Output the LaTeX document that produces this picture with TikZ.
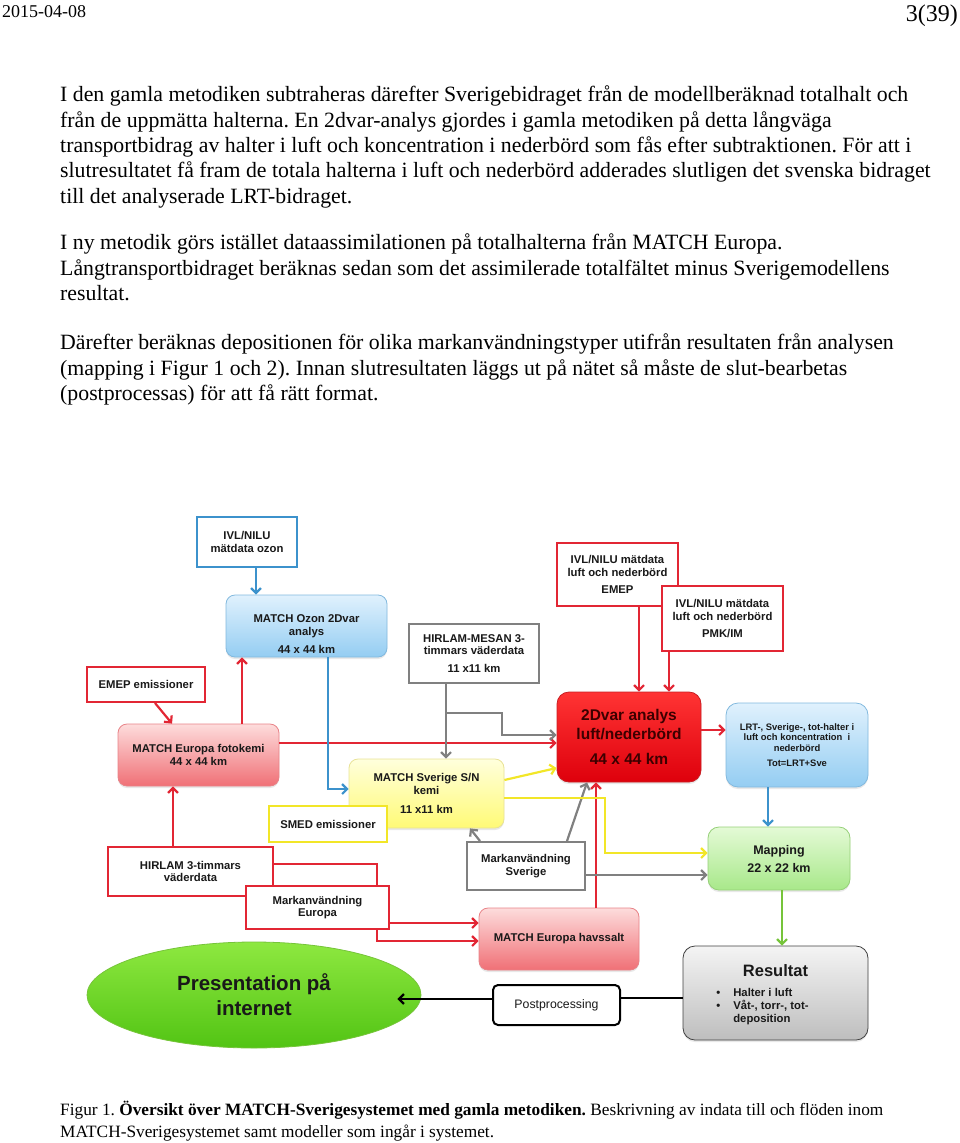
\documentclass[tikz,border=0pt]{standalone}
\usepackage{fontspec}
\setmainfont{Liberation Serif}
\setsansfont{Liberation Sans}
\usetikzlibrary{positioning,arrows.meta,backgrounds,shadows,shapes.geometric}

\definecolor{lineRed}{RGB}{226,38,52}
\definecolor{lineBlue}{RGB}{60,146,204}
\definecolor{lineGray}{RGB}{128,128,128}
\definecolor{lineYellow}{RGB}{242,230,40}
\definecolor{lineGreen}{RGB}{118,196,58}
\definecolor{blueTop}{RGB}{224,241,253}
\definecolor{blueBot}{RGB}{148,205,242}
\definecolor{blueEdge}{RGB}{130,185,222}
\definecolor{pinkTop}{RGB}{253,220,220}
\definecolor{pinkBot}{RGB}{240,112,118}
\definecolor{pinkEdge}{RGB}{232,130,135}
\definecolor{yelTop}{RGB}{255,255,220}
\definecolor{yelBot}{RGB}{255,250,118}
\definecolor{yelEdge}{RGB}{232,226,150}
\definecolor{redTop}{RGB}{255,52,52}
\definecolor{redBot}{RGB}{222,0,12}
\definecolor{redEdge}{RGB}{200,30,35}
\definecolor{greenTop}{RGB}{228,250,214}
\definecolor{greenBot}{RGB}{168,232,138}
\definecolor{greenEdge}{RGB}{150,208,120}
\definecolor{grayTop}{RGB}{244,244,244}
\definecolor{grayBot}{RGB}{190,190,190}
\definecolor{ellTop}{RGB}{142,232,64}
\definecolor{ellBot}{RGB}{82,196,20}
\definecolor{ink}{RGB}{25,25,25}
\definecolor{dvarInk}{RGB}{60,0,0}

\newcommand{\bodyfont}{\rmfamily\mdseries\fontsize{21.8}{25.3}\selectfont}
\newcommand{\capfont}{\rmfamily\mdseries\fontsize{17.3}{22}\selectfont}
\newcommand{\boxfont}{\sffamily\bfseries\fontsize{11.3}{12.8}\selectfont}
\frenchspacing

\begin{document}
\begin{tikzpicture}[
  x=1pt, y=-1pt,
  font=\boxfont,
  text=ink,
  pagetext/.style={font=\bodyfont, align=left, inner sep=0pt, text=black},
  input/.style={
    draw,
    line width=2pt,
    fill=white,
    align=center,
    inner sep=2pt
  },
  model/.style={
    draw,
    rounded corners=9pt,
    line width=0.8pt,
    align=center,
    inner sep=2pt,
    drop shadow={opacity=0.18, shadow xshift=0pt, shadow yshift=-2pt}
  },
  flow/.style={-{Straight Barb[length=5pt,width=10pt]}, line width=2.2pt}
]
\useasboundingbox (0,0) rectangle (960,1143);

% page text
\node[pagetext, font=\rmfamily\fontsize{18}{20}\selectfont, anchor=base west] (date) at (2,17) {2015-04-08};
\node[pagetext, font=\rmfamily\fontsize{24}{26}\selectfont, anchor=base east] (pageno) at (958,21) {3(39)};
\node[pagetext, anchor=north west] (para1) at (60,86) {%
I den gamla metodiken subtraheras därefter Sverigebidraget från de modellberäknad totalhalt och\\
från de uppmätta halterna. En 2dvar-analys gjordes i gamla metodiken på detta långväga\\
transportbidrag av halter i luft och koncentration i nederbörd som fås efter subtraktionen. För att i\\
slutresultatet få fram de totala halterna i luft och nederbörd adderades slutligen det svenska bidraget\\
till det analyserade LRT-bidraget.};
\node[pagetext, anchor=north west] (para2) at (60,234) {%
I ny metodik görs istället dataassimilationen på totalhalterna från MATCH Europa.\\
Långtransportbidraget beräknas sedan som det assimilerade totalfältet minus Sverigemodellens\\
resultat.};
\node[pagetext, anchor=north west] (para3) at (60,334) {%
Därefter beräknas depositionen för olika markanvändningstyper utifrån resultaten från analysen\\
(mapping i Figur 1 och 2). Innan slutresultaten läggs ut på nätet så måste de slut-bearbetas\\
(postprocessas) för att få rätt format.};
\node[pagetext, font=\capfont, anchor=north west] (caption) at (60,1101) {%
Figur 1. \textbf{Översikt över MATCH-Sverigesystemet med gamla metodiken.} Beskrivning av indata till och flöden inom\\
MATCH-Sverigesystemet samt modeller som ingår i systemet.};

% input boxes
\node[input, draw=lineBlue, minimum width=100pt, minimum height=50pt] (ozonobs) at (247,542) {IVL/NILU\\mätdata ozon};
\node[input, draw=lineRed, minimum width=118pt, minimum height=35pt] (emepem) at (146,684.5) {EMEP emissioner};
\node[input, draw=lineRed, minimum width=165pt, minimum height=49pt] (hirlam) at (190.5,871.5) {HIRLAM 3-timmars\\väderdata};
\node[input, draw=lineRed, minimum width=121pt, minimum height=63pt] (emepobs) at (617.5,574.5) {IVL/NILU mätdata\\luft och nederbörd\\[4pt]EMEP};
\node[input, draw=lineRed, minimum width=121pt, minimum height=65pt] (pmkobs) at (722.5,618.5) {IVL/NILU mätdata\\luft och nederbörd\\[4pt]PMK/IM};
\node[input, draw=lineGray, minimum width=130pt, minimum height=59pt] (mesan) at (474,653.5) {HIRLAM-MESAN 3-\\timmars väderdata\\[5pt]11 x11 km};
\node[input, draw=lineGray, minimum width=118pt, minimum height=48pt] (landsv) at (526,866) {Markanvändning\\Sverige};

% model boxes
\node[model, draw=blueEdge, top color=blueTop, bottom color=blueBot, minimum width=161pt, minimum height=62pt] (ozon) at (306.5,626) {\rule{0pt}{24pt}MATCH Ozon 2Dvar\\analys\\[6pt]44 x 44 km};
\node[model, draw=pinkEdge, top color=pinkTop, bottom color=pinkBot, minimum width=161pt, minimum height=62pt] (foto) at (198.5,755) {MATCH Europa fotokemi\\44 x 44 km};
\node[model, draw=yelEdge, top color=yelTop, bottom color=yelBot, minimum width=155pt, minimum height=69pt] (sverige) at (426.5,793.5) {MATCH Sverige S/N\\kemi\\[6pt]11 x11 km};
\node[input, draw=lineYellow, minimum width=118pt, minimum height=36pt] (smed) at (328,824) {SMED emissioner};
\node[model, draw=pinkEdge, top color=pinkTop, bottom color=pinkBot, minimum width=160pt, minimum height=62pt] (havs) at (559,939) {MATCH Europa havssalt};
\node[model, rounded corners=12pt, draw=redEdge, top color=redTop, bottom color=redBot, minimum width=144pt, minimum height=90pt,
  font=\sffamily\bfseries\fontsize{15.5}{18.5}\selectfont, text=dvarInk] (dvar) at (629,737) {2Dvar analys\\luft/nederbörd\\[7pt]44 x 44 km};
\node[model, rounded corners=12pt, draw=blueEdge, top color=blueTop, bottom color=blueBot, minimum width=142pt, minimum height=84pt,
  font=\sffamily\bfseries\fontsize{9.4}{10.4}\selectfont] (lrt) at (797,745) {LRT-, Sverige-, tot-halter i\\luft och koncentration\ \ i\\nederbörd\\[5pt]Tot=LRT+Sve};
\node[model, rounded corners=11pt, draw=greenEdge, top color=greenTop, bottom color=greenBot, minimum width=142pt, minimum height=63pt,
  font=\sffamily\bfseries\fontsize{12.5}{18}\selectfont] (mapping) at (779,858.5) {Mapping\\22 x 22 km};
\node[model, rounded corners=12pt, draw=black!75, top color=grayTop, bottom color=grayBot, minimum width=185pt, minimum height=94pt] (resultat) at (775.5,993) {%
{\fontsize{16.5}{18}\selectfont\rule{0pt}{17pt}Resultat}\\[10pt]
\begin{tabular}{@{}l@{\hspace{13pt}}l@{}}
\textbullet & Halter i luft\\
\textbullet & Våt-, torr-, tot-\\
 & deposition
\end{tabular}\hspace*{26pt}};
\node[input, draw=black, rounded corners=5pt, minimum width=127pt, minimum height=40pt,
  font=\sffamily\mdseries\fontsize{12.3}{14}\selectfont] (post) at (556.5,1005) {Postprocessing};
\node[ellipse, draw=lineGreen, line width=0.8pt, top color=ellTop, bottom color=ellBot, minimum width=334pt, minimum height=106pt,
  align=center, font=\sffamily\bfseries\fontsize{20.5}{25}\selectfont] (web) at (254,995) {Presentation på\\internet};

% connectors
\coordinate (mesanfork) at (446,713);
\coordinate (webtip) at ([xshift=-24pt]web.east);
\begin{scope}[on background layer]
\draw[flow, lineRed] (hirlam.east |- 0,864) -| (377,941) -- (havs.west |- 0,941);
\end{scope}
\node[input, draw=lineRed, minimum width=143pt, minimum height=43pt] (landeu) at (317.5,907.5) {Markanvändning\\Europa};

\draw[flow, lineBlue] (256,0 |- ozonobs.south) -- (256,0 |- ozon.north);
\draw[flow, lineRed] (242,0 |- foto.north) -- (242,0 |- ozon.south);
\draw[flow, lineRed] (155,0 |- emepem.south) -- (172,0 |- foto.north);
\draw[flow, lineRed] (foto.east |- 0,743) -- (dvar.west |- 0,743);
\draw[flow, lineRed] (173,0 |- hirlam.north) -- (173,0 |- foto.south);
\draw[flow, lineRed] (landeu.east |- 0,923) -- (havs.west |- 0,923);
\draw[flow, lineRed] (596,0 |- havs.north) -- (596,0 |- dvar.south);
\draw[flow, lineGray] (480,0 |- landsv.north) -- (470,0 |- sverige.south);
\draw[flow, lineGray] (567,0 |- landsv.north) -- (587,0 |- dvar.south);
\draw[flow, lineGray] (landsv.east |- 0,875) -- (mapping.west |- 0,875);
\draw[flow, lineYellow] (sverige.east |- 0,780) -- (dvar.west |- 0,768);
\draw[flow, lineYellow] (sverige.east |- 0,798) -| (605,853) -- (mapping.west |- 0,853);
\draw[flow, lineBlue] (328,0 |- ozon.south) |- (sverige.west |- 0,789);
\draw[flow, lineGray] (446,0 |- mesan.south) -- (446,0 |- sverige.north);
\draw[flow, lineGray] (mesanfork) -| (502,735) -- (dvar.west |- 0,735);
\draw[flow, lineRed] (639,0 |- emepobs.south) -- (639,0 |- dvar.north);
\draw[flow, lineRed] (669,0 |- pmkobs.south) -- (669,0 |- dvar.north);
\draw[flow, lineRed] (dvar.east |- 0,730) -- (lrt.west |- 0,730);
\draw[flow, lineBlue] (768,0 |- lrt.south) -- (768,0 |- mapping.north);
\draw[flow, lineGreen] (782,0 |- mapping.south) -- (782,0 |- resultat.north);
\draw[line width=2.4pt, black] (resultat.west |- 0,998) -- (post.east |- 0,998);
\draw[flow, black] (post.west |- 0,999) -- (webtip |- 0,999);
\end{tikzpicture}
\end{document}
